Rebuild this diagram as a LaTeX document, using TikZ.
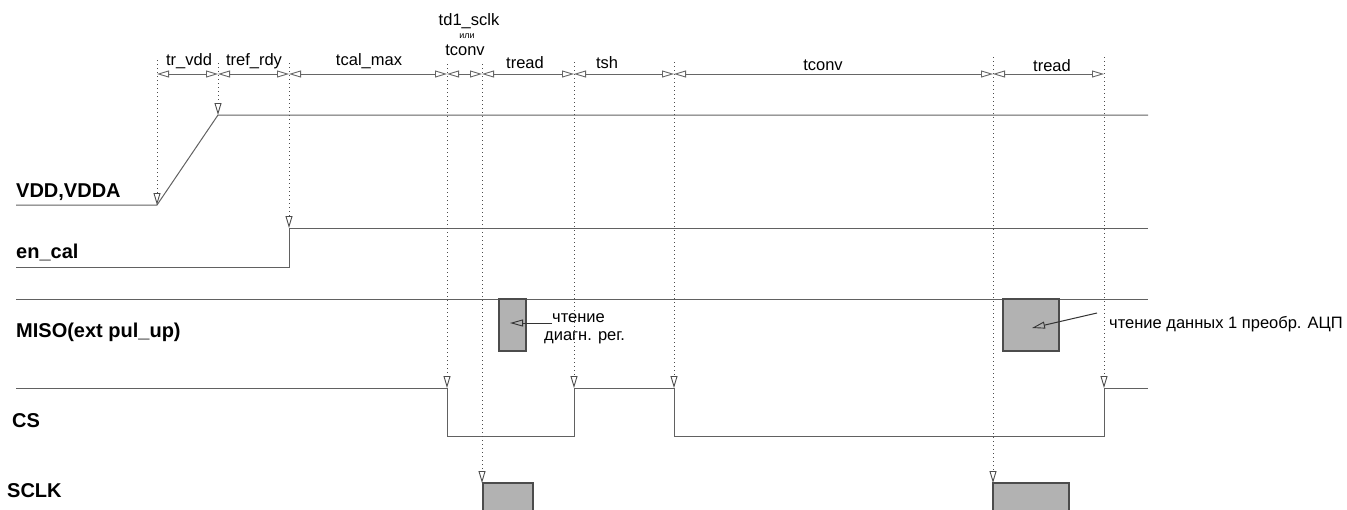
\documentclass[tikz,border=0pt]{standalone}
\usepackage{fontspec}
\setmainfont{Liberation Sans}
\usetikzlibrary{arrows.meta}
\tikzset{
  sig/.style={draw=black!62, line width=1pt},
  guide/.style={draw=black!70, line width=1pt, dash pattern=on 1.4pt off 2.6pt,
    -{Triangle[open,length=12pt,width=7pt,line width=0.9pt]}},
  span/.style={draw=black!60, line width=1pt,
    {Triangle[open,length=12pt,width=7pt,line width=0.9pt]}-{Triangle[open,length=12pt,width=7pt,line width=0.9pt]}},
  busy/.style={draw=black!70, fill=black!30, line width=1.1pt},
  note/.style={draw=black!80, line width=1pt, -{Triangle[open,length=13pt,width=7pt,line width=0.9pt]}},
  siglabel/.style={font=\fontsize{20}{23}\selectfont\bfseries, anchor=base west, inner sep=0pt},
  spanlabel/.style={font=\fontsize{16.5}{19}\selectfont, anchor=base, inner sep=0pt},
  notelabel/.style={font=\fontsize{16.5}{19}\selectfont, anchor=base west, inner sep=0pt},
}

\begin{document}
\begin{tikzpicture}[x=1pt, y=-1pt]
  %%%%% START %%%%%
  \useasboundingbox (0,0) rectangle (1347,509);

  % time marks on the span line
  \coordinate (ta) at (157,74);
  \coordinate (tb) at (218,74);
  \coordinate (tc) at (289,74);
  \coordinate (td) at (447,74);
  \coordinate (te) at (482,74);
  \coordinate (tf) at (574,74);
  \coordinate (tg) at (674,74);
  \coordinate (th) at (993,74);
  \coordinate (ti) at (1104,74);

  % signal names
  \node[siglabel] (vdd)  at (16,197) {VDD,VDDA};
  \node[siglabel] (ecal) at (16,258) {en\_cal};
  \node[siglabel] (miso) at (16,337) {MISO(ext pul\_up)};
  \node[siglabel] (cs)   at (12,427) {CS};
  \node[siglabel] (sclk) at (7,497)  {SCLK};

  % VDD,VDDA
  \draw[sig] (16,205) -- (157,205) -- (218,115) -- (1148,115);
  % en_cal
  \draw[sig] (16,267) -- (289,267) -- (289,228) -- (1148,228);
  % MISO
  \draw[sig] (16,299) -- (1148,299);
  \draw[busy] (499,299) rectangle (526,351);
  \draw[busy] (1003,299) rectangle (1059,351);
  % CS
  \draw[sig] (16,388) -- (447,388) -- (447,436) -- (574,436) -- (574,388)
    -- (674,388) -- (674,436) -- (1104,436) -- (1104,388) -- (1148,388);
  % SCLK
  \draw[busy] (483,483) rectangle (533,515);
  \draw[busy] (993,483) rectangle (1069,515);

  % dotted guides
  \draw[guide] (157,60) -- (157,205);
  \draw[guide] (218,63) -- (218,115);
  \draw[guide] (289,63) -- (289,228);
  \draw[guide] (447,64) -- (447,388);
  \draw[guide] (482,64) -- (482,483);
  \draw[guide] (574,62) -- (574,388);
  \draw[guide] (674,62) -- (674,388);
  \draw[guide] (993,57) -- (993,483);
  \draw[guide] (1104,57) -- (1104,388);

  % spans
  \draw[span] (ta) -- (tb);
  \draw[span] (tb) -- (tc);
  \draw[span] (tc) -- (td);
  \draw[span] (td) -- (te);
  \draw[span] (te) -- (tf);
  \draw[span] (tf) -- (tg);
  \draw[span] (tg) -- (th);
  \draw[span] (th) -- (ti);

  \node[spanlabel] (trvdd)  at (189,65) {tr\_vdd};
  \node[spanlabel] (trefr)  at (254,65) {tref\_rdy};
  \node[spanlabel] (tcal)   at (369,65) {tcal\_max};
  \node[spanlabel] (tdsclk) at (469,25) {td1\_sclk};
  \node[spanlabel, font=\fontsize{9}{10}\selectfont] (ili) at (467,38) {или};
  \node[spanlabel] (tconva) at (465,55) {tconv};
  \node[spanlabel] (treada) at (525,68) {tread};
  \node[spanlabel] (tsh)    at (607,68) {tsh};
  \node[spanlabel] (tconvb) at (823,70) {tconv};
  \node[spanlabel] (treadb) at (1052,71) {tread};

  % notes on MISO
  \node[notelabel] (diaga) at (552,322) {чтение};
  \node[notelabel] (diagb) at (544,340) {диагн. рег.};
  \coordinate (diagtip) at (510,323);
  \draw[note] (diaga.west |- diagtip) -- (diagtip);
  \node[notelabel] (adc) at (1109,328) {чтение данных 1 преобр. АЦП};
  \coordinate (adctip) at (1032,328);
  \draw[note] (1097,313) -- (adctip);
  %%%%% END %%%%%
\end{tikzpicture}
\end{document}
